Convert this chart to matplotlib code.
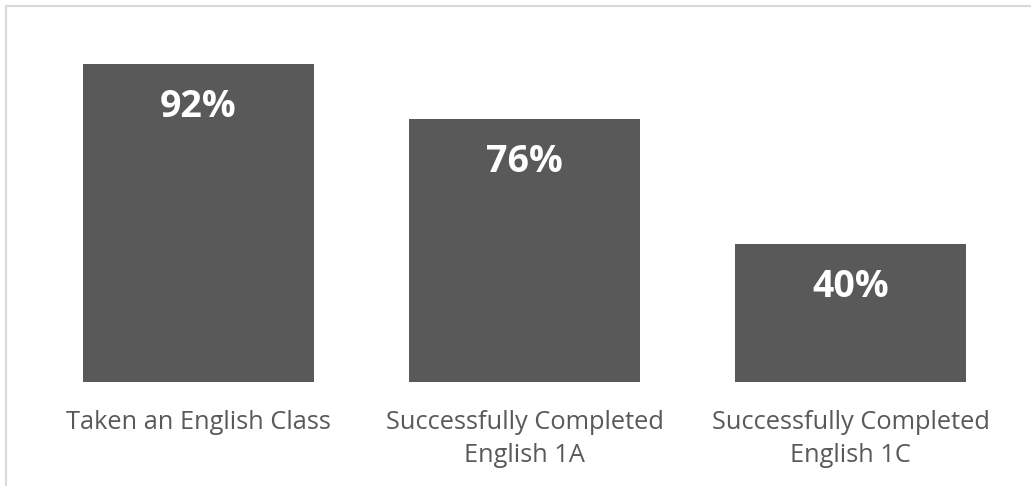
import matplotlib.pyplot as plt
from matplotlib.lines import Line2D

plt.rcParams['font.family'] = ['Open Sans', 'DejaVu Sans']

categories = ["Taken an English Class",
              "Successfully Completed\nEnglish 1A",
              "Successfully Completed\nEnglish 1C"]
values = [92, 76, 40]

bar_color = "#595959"
text_color = "#595959"

fig = plt.figure(figsize=(10.31, 4.86), dpi=100)
W, H = 1031, 486
ax = fig.add_axes([35.5 / W, 104 / H, 978 / W, 345.7 / H])

x = range(len(values))
bars = ax.bar(x, values, width=0.71, color=bar_color)
ax.set_xlim(-0.5, len(values) - 0.5)
ax.set_ylim(0, 100)

for b, v in zip(bars, values):
    ax.annotate(f"{v}%", (b.get_x() + b.get_width() / 2, v),
                xytext=(0, -38.2), textcoords="offset points",
                ha="center", va="baseline", color="white",
                fontsize=27, fontweight="bold")

ax.set_xticks(list(x))
ax.set_xticklabels(categories, fontsize=18.3, color=text_color, linespacing=1.42)
ax.tick_params(axis="x", length=0, pad=20)
ax.set_yticks([])
for s in ax.spines.values():
    s.set_visible(False)

# outer chart frame (top and left edges)
fig.add_artist(Line2D([6 / W, 6 / W], [0, 1 - 6 / H], color="#d9d9d9", lw=1.5,
                      transform=fig.transFigure))
fig.add_artist(Line2D([6 / W, 1], [1 - 6 / H, 1 - 6 / H], color="#d9d9d9", lw=1.5,
                      transform=fig.transFigure))

fig.savefig("out.png", dpi=100)
